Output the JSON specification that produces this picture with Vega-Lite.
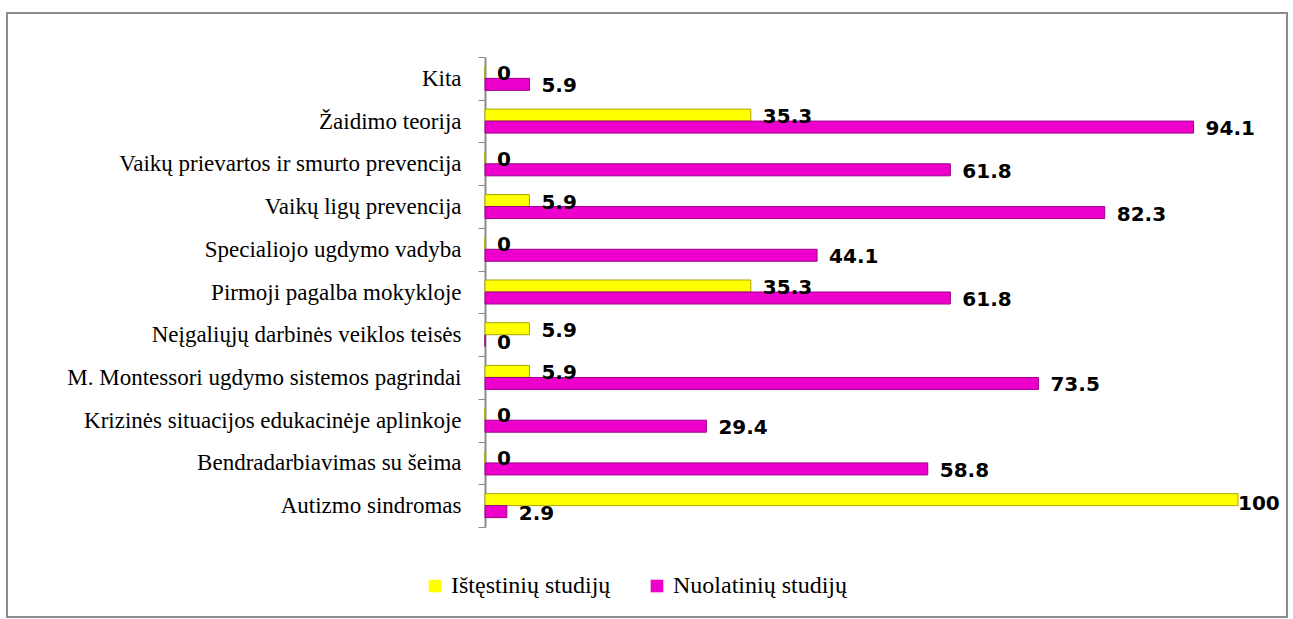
{
  "$schema": "https://vega.github.io/schema/vega-lite/v6.json",
  "width": 1280,
  "height": 604,
  "padding": {"left": 7, "top": 13, "right": 6, "bottom": 2},
  "autosize": {"type": "none"},
  "background": "white",
  "config": {"view": {"stroke": "#8c8c8c", "strokeWidth": 2}},
  "data": {
    "values": [
      {"category": "Kita", "series": "Ištęstinių studijų", "value": 0},
      {"category": "Kita", "series": "Nuolatinių studijų", "value": 5.9},
      {"category": "Žaidimo teorija", "series": "Ištęstinių studijų", "value": 35.3},
      {"category": "Žaidimo teorija", "series": "Nuolatinių studijų", "value": 94.1},
      {"category": "Vaikų prievartos ir smurto prevencija", "series": "Ištęstinių studijų", "value": 0},
      {"category": "Vaikų prievartos ir smurto prevencija", "series": "Nuolatinių studijų", "value": 61.8},
      {"category": "Vaikų ligų prevencija", "series": "Ištęstinių studijų", "value": 5.9},
      {"category": "Vaikų ligų prevencija", "series": "Nuolatinių studijų", "value": 82.3},
      {"category": "Specialiojo ugdymo vadyba", "series": "Ištęstinių studijų", "value": 0},
      {"category": "Specialiojo ugdymo vadyba", "series": "Nuolatinių studijų", "value": 44.1},
      {"category": "Pirmoji pagalba mokykloje", "series": "Ištęstinių studijų", "value": 35.3},
      {"category": "Pirmoji pagalba mokykloje", "series": "Nuolatinių studijų", "value": 61.8},
      {"category": "Neįgaliųjų darbinės veiklos teisės", "series": "Ištęstinių studijų", "value": 5.9},
      {"category": "Neįgaliųjų darbinės veiklos teisės", "series": "Nuolatinių studijų", "value": 0},
      {"category": "M. Montessori ugdymo sistemos pagrindai", "series": "Ištęstinių studijų", "value": 5.9},
      {"category": "M. Montessori ugdymo sistemos pagrindai", "series": "Nuolatinių studijų", "value": 73.5},
      {"category": "Krizinės situacijos edukacinėje aplinkoje", "series": "Ištęstinių studijų", "value": 0},
      {"category": "Krizinės situacijos edukacinėje aplinkoje", "series": "Nuolatinių studijų", "value": 29.4},
      {"category": "Bendradarbiavimas su šeima", "series": "Ištęstinių studijų", "value": 0},
      {"category": "Bendradarbiavimas su šeima", "series": "Nuolatinių studijų", "value": 58.8},
      {"category": "Autizmo sindromas", "series": "Ištęstinių studijų", "value": 100},
      {"category": "Autizmo sindromas", "series": "Nuolatinių studijų", "value": 2.9}
    ]
  },
  "encoding": {
    "y": {
      "field": "category",
      "type": "nominal",
      "sort": null,
      "scale": {"range": [44, 514], "paddingInner": 0, "paddingOuter": 0},
      "axis": {
        "title": null,
        "orient": "left",
        "offset": -478,
        "tickBand": "extent",
        "labelFont": "Liberation Serif",
        "labelFontSize": 23,
        "labelColor": "black",
        "labelPadding": 17,
        "labelLimit": 0,
        "tickSize": 7,
        "tickColor": "#8c8c8c",
        "domainColor": "#8c8c8c",
        "domainWidth": 2
      }
    },
    "yOffset": {
      "field": "series",
      "type": "nominal",
      "scale": {"domain": ["Ištęstinių studijų", "Nuolatinių studijų"], "paddingInner": 0, "paddingOuter": 0.78}
    },
    "x": {
      "field": "value",
      "type": "quantitative",
      "scale": {"domain": [0, 100], "range": [478, 1231]},
      "axis": null
    }
  },
  "layer": [
    {
      "mark": {"type": "bar", "strokeWidth": 1},
      "encoding": {
        "color": {
          "field": "series",
          "type": "nominal",
          "scale": {"domain": ["Ištęstinių studijų", "Nuolatinių studijų"], "range": ["#ffff00", "#ee00cc"]},
          "legend": {
            "title": null,
            "orient": "none",
            "legendX": 416,
            "legendY": 561,
            "direction": "horizontal",
            "symbolType": "square",
            "symbolSize": 160,
            "symbolStrokeWidth": 0,
            "labelFont": "Liberation Serif",
            "labelFontSize": 24,
            "labelColor": "black",
            "labelLimit": 0,
            "labelOffset": 4,
            "columnPadding": 34
          }
        },
        "stroke": {
          "field": "series",
          "type": "nominal",
          "scale": {"domain": ["Ištęstinių studijų", "Nuolatinių studijų"], "range": ["#a8a800", "#9a0088"]},
          "legend": null
        }
      }
    },
    {
      "transform": [{"filter": "datum.value < 100"}],
      "mark": {"type": "text", "align": "left", "baseline": "middle", "dx": 12, "dy": 2, "font": "DejaVu Sans", "fontSize": 20, "fontWeight": "bold", "color": "black"},
      "encoding": {"text": {"field": "value", "type": "quantitative"}}
    },
    {
      "transform": [{"filter": "datum.value >= 100"}],
      "mark": {"type": "text", "align": "left", "baseline": "middle", "dx": 0, "dy": 4, "font": "DejaVu Sans", "fontSize": 20, "fontWeight": "bold", "color": "black"},
      "encoding": {"text": {"field": "value", "type": "quantitative"}}
    }
  ]
}
